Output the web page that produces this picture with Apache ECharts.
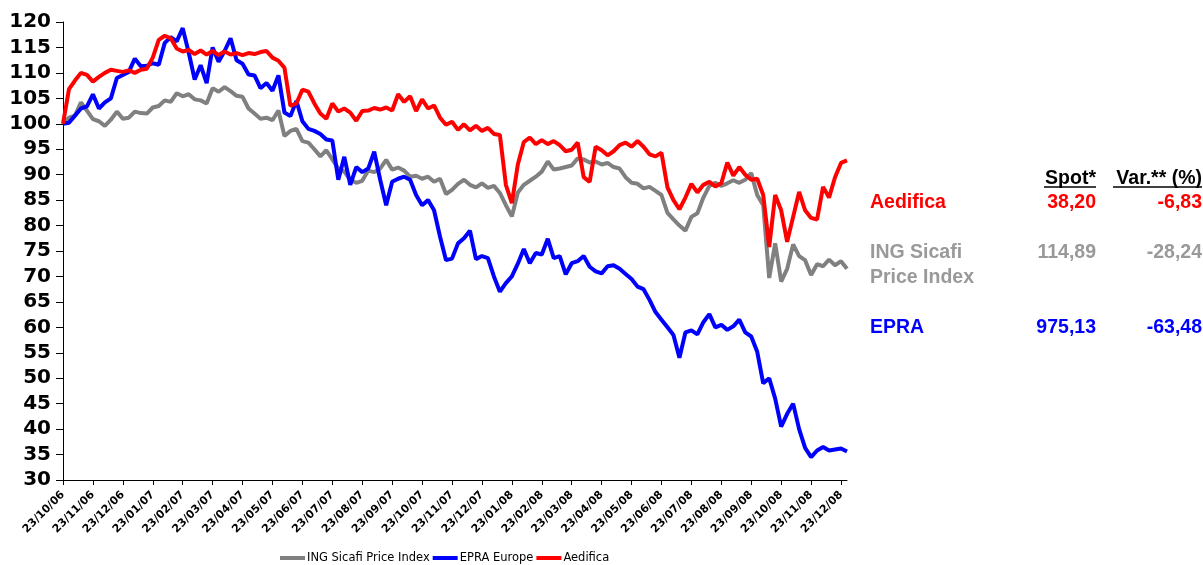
<!DOCTYPE html>
<html>
<head>
<meta charset="utf-8">
<script src="https://cdn.jsdelivr.net/npm/echarts@6/dist/echarts.min.js"></script>
<style>
html,body{margin:0;padding:0;background:#fff;}
#chart{width:1203px;height:565px;}
</style>
</head>
<body>
<div id="chart"></div>
<script>
// Month tick labels (one tick every 5 samples)
const tickLabels = ['23/10/06','23/11/06','23/12/06','23/01/07','23/02/07','23/03/07','23/04/07','23/05/07','23/06/07','23/07/07','23/08/07','23/09/07','23/10/07','23/11/07','23/12/07','23/01/08','23/02/08','23/03/08','23/04/08','23/05/08','23/06/08','23/07/08','23/08/08','23/09/08','23/10/08','23/11/08','23/12/08'];
const samplesPerMonth = 5;

// Series values (rebased to 100), sampled ~weekly
const ingSicafi = [100,101.2,101.6,104.2,102.6,100.9,100.5,99.6,100.8,102.4,101,101.2,102.4,102.1,102,103.2,103.5,104.6,104.3,106,105.4,105.8,104.8,104.6,104,107,106.3,107.2,106.4,105.5,105.3,103,102,101,101.2,100.7,102.6,97.6,98.6,99,96.6,96.3,95,93.6,94.8,93,91.2,90.6,89,88.4,88.8,90.8,90.5,91.2,92.9,91,91.4,90.8,89.6,89.8,89.2,89.6,88.6,89.2,86.2,87,88.2,89,88,87.5,88.3,87.4,87.8,86.4,84,81.8,86.5,88,88.8,89.6,90.6,92.6,91,91.2,91.5,91.8,93.2,93,92.4,92.6,92,92.3,91.5,91.2,89.5,88.4,88.2,87.3,87.6,86.8,86,82.5,81.2,80,79,81.7,82.4,85.5,87.8,88.4,87.8,88.3,88.9,88.4,89,90.3,86,84,69.7,76.5,69,71.5,76.3,74,73.2,70.3,72.4,72,73.3,72.2,73,71.5];
const epraEurope = [100,100.2,101.6,103,103.4,105.8,103,104.2,105,109,109.6,110.2,112.8,111.3,111.4,111.9,111.6,115.9,117,116.2,118.8,114,108.7,111.5,108,115,112.2,114.3,116.8,112.5,111.8,109.7,109.5,107,108,106.5,109.5,102.2,101.5,104.5,100.5,99,98.6,98,96.9,96.7,89,93.5,88,91.5,90.5,91.2,94.5,89,84,88.6,89.2,89.6,89,86,84,85,83,77.8,73.2,73.5,76.5,77.5,79,73.4,74,73.6,70,67,68.7,70,72.5,75.4,72.6,74.6,74.3,77.4,73.6,74,70.4,72.6,73,74,71.9,71,70.6,72,72.2,71.5,70.5,69.5,68,67.5,65.4,63,61.5,60,58.5,54,59,59.4,58.6,61,62.6,60,60.5,59.5,60.2,61.5,59,58.2,55.2,49,50,46,40.5,43,45,40,36.3,34.5,35.8,36.5,35.8,36,36.2,35.6];
const aedifica = [100,106.8,108.5,110,109.6,108.3,109.2,110,110.6,110.4,110.2,110.5,110,110.6,110.8,113,116.5,117.3,116.8,114.8,114.2,114.5,113.7,114.4,113.6,114.3,113.5,114.2,113.6,113.9,113.5,113.9,113.7,114.1,114.3,113,112.4,111,103.5,104,106.7,106.3,104,102,101,104,102.4,103,102.2,100.6,102.5,102.6,103.1,102.8,103.2,102.6,105.8,104.3,105.4,102.5,104.8,103,103.6,101.2,99.8,100.4,98.8,99.9,98.7,99.6,98.6,99.2,98,97.8,88,84.4,92,96.4,97.3,96,96.8,96,96.6,95.8,94.6,94.9,96.3,89.5,88.6,95.5,94.8,93.8,94.6,95.8,96.3,95.5,96.6,95.5,94,93.6,94.3,87.5,85,83.2,85.5,88.2,86.5,88,88.6,87.7,88.3,92.4,89.8,91.5,90,89,89.2,86,75.8,86,83,76.8,81.7,86.6,83,81.5,81.2,87.6,85.5,89.5,92.3,92.8];

const seriesNames = ['ING Sicafi Price Index', 'EPRA Europe', 'Aedifica'];
const seriesColors = ['#808080', '#0000FF', '#FF0000'];

// Side table
const tableHeaders = ['Spot*', 'Var.** (%)'];
const tableNames = ['Aedifica', 'ING Sicafi\nPrice Index', 'EPRA'];
const tableSpot = ['38,20', '114,89', '975,13'];
const tableVar = ['-6,83', '-28,24', '-63,48'];
const tableColors = ['#FF0000', '#999999', '#0000FF'];

const categories = aedifica.map((_, i) => String(i));

const chart = echarts.init(document.getElementById('chart'), null, {renderer: 'canvas'});

const tableFont = {fontFamily: 'Liberation Sans, Arial, sans-serif', fontWeight: 'bold', fontSize: 19.5, lineHeight: 25};
const rowTop = [190, 240, 315];
const graphic = [];
graphic.push({type: 'text', right: 1203 - 1096, top: 166, style: Object.assign({text: tableHeaders[0], fill: '#000', textAlign: 'right'}, tableFont)});
graphic.push({type: 'text', right: 1203 - 1202, top: 166, style: Object.assign({text: tableHeaders[1], fill: '#000', textAlign: 'right'}, tableFont)});
graphic.push({type: 'line', shape: {x1: 1044, y1: 187, x2: 1096, y2: 187}, style: {stroke: '#000', lineWidth: 1.5}});
graphic.push({type: 'line', shape: {x1: 1113, y1: 187, x2: 1202, y2: 187}, style: {stroke: '#000', lineWidth: 1.5}});
tableNames.forEach((n, k) => {
  graphic.push({type: 'text', left: 870, top: rowTop[k], style: Object.assign({text: n, fill: tableColors[k]}, tableFont)});
  graphic.push({type: 'text', right: 1203 - 1096, top: rowTop[k], style: Object.assign({text: tableSpot[k], fill: tableColors[k], textAlign: 'right'}, tableFont)});
  graphic.push({type: 'text', right: 1203 - 1202, top: rowTop[k], style: Object.assign({text: tableVar[k], fill: tableColors[k], textAlign: 'right'}, tableFont)});
});

const dataSets = [ingSicafi, epraEurope, aedifica];

chart.setOption({
  animation: false,
  backgroundColor: '#fff',
  grid: {left: 63, right: 356, top: 22, bottom: 85, containLabel: false},
  legend: {
    left: 280, top: 552, padding: 0, itemGap: 3, itemWidth: 25, itemHeight: 4, icon: 'rect',
    data: seriesNames,
    textStyle: {fontFamily: 'DejaVu Sans', fontSize: 11.5, color: '#000', padding: [0, 0, 0, -3]}
  },
  xAxis: {
    type: 'category', boundaryGap: false, data: categories,
    axisLine: {show: true, lineStyle: {color: '#000', width: 1}},
    axisTick: {show: true, interval: samplesPerMonth - 1, length: 5, lineStyle: {color: '#000'}},
    axisLabel: {
      interval: samplesPerMonth - 1, rotate: 45, margin: 13,
      fontFamily: 'DejaVu Sans', fontWeight: 'bold', fontSize: 11, color: '#000',
      formatter: (v, idx) => tickLabels[Math.round(idx / samplesPerMonth)] || ''
    },
    splitLine: {show: false}
  },
  yAxis: {
    type: 'value', min: 30, max: 120, interval: 5,
    axisLine: {show: true, lineStyle: {color: '#000', width: 1}},
    axisTick: {show: true, length: 7, lineStyle: {color: '#000'}},
    axisLabel: {margin: 12, fontFamily: 'DejaVu Sans', fontWeight: 'bold', fontSize: 20, color: '#000'},
    splitLine: {show: false}
  },
  series: seriesNames.map((name, k) => ({
    name, type: 'line', data: dataSets[k], symbol: 'none',
    lineStyle: {color: seriesColors[k], width: 4},
    itemStyle: {color: seriesColors[k]},
    z: 2 + k
  })),
  graphic
});
</script>
</body>
</html>
